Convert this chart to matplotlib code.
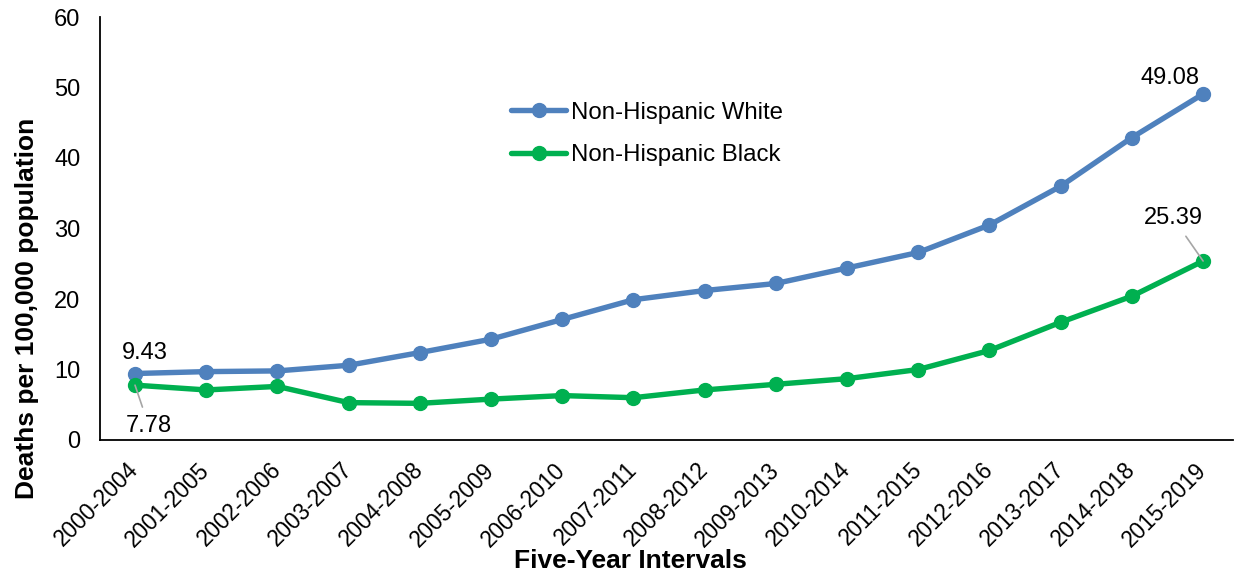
import matplotlib
matplotlib.use("Agg")
import matplotlib.pyplot as plt
from matplotlib.transforms import ScaledTranslation

categories = ["2000-2004", "2001-2005", "2002-2006", "2003-2007", "2004-2008",
              "2005-2009", "2006-2010", "2007-2011", "2008-2012", "2009-2013",
              "2010-2014", "2011-2015", "2012-2016", "2013-2017", "2014-2018",
              "2015-2019"]
white = [9.43, 9.7, 9.8, 10.6, 12.4, 14.3, 17.1, 19.9, 21.2, 22.2, 24.4, 26.6,
         30.5, 36.0, 42.9, 49.08]
black = [7.78, 7.1, 7.6, 5.3, 5.2, 5.8, 6.3, 6.0, 7.1, 7.9, 8.7, 10.0, 12.7,
         16.7, 20.4, 25.39]
yticks = [0, 10, 20, 30, 40, 50, 60]

plt.rcParams['font.family'] = ['Liberation Sans', 'DejaVu Sans']

W, H = 1235, 573
fig = plt.figure(figsize=(W / 100, H / 100), dpi=100)
ax = fig.add_axes([100 / W, 133 / H, 1133 / W, 423 / H])

x = list(range(len(categories)))
ax.plot(x, white, color="#4F81BD", lw=3.9, marker="o", ms=10, label="Non-Hispanic White",
        solid_capstyle="round", zorder=3)
ax.plot(x, black, color="#00B050", lw=3.9, marker="o", ms=10, label="Non-Hispanic Black",
        solid_capstyle="round", zorder=3)

ax.set_xlim(-0.4916, 15.42)
ax.set_ylim(0, 60)
ax.set_yticks(yticks)
ax.set_xticks(x)
ax.set_xticklabels(categories, rotation=45, ha="right", va="center",
                   rotation_mode="anchor", fontsize=16.3)
offset = ScaledTranslation(10 / 100, 0, fig.dpi_scale_trans)
for lab in ax.get_xticklabels():
    lab.set_transform(lab.get_transform() + offset)
ax.tick_params(axis="y", labelsize=17, length=0, pad=14)
ax.tick_params(axis="x", length=0, pad=19)
for s in ["top", "right"]:
    ax.spines[s].set_visible(False)
ax.spines["left"].set_linewidth(1.3)
ax.spines["bottom"].set_linewidth(1.3)

ax.set_ylabel("Deaths per 100,000 population", fontsize=19, fontweight="bold",
              va="center", ha="center")
ax.yaxis.set_label_coords((27 - 100) / 1133, (440 - 308) / 423)
ax.set_xlabel("Five-Year Intervals", fontsize=19, fontweight="bold", va="center", ha="center")
ax.xaxis.set_label_coords((630 - 100) / 1133, (440 - 561) / 423)

# data labels
ax.annotate(f"{white[0]:.2f}", (x[0], white[0]), xytext=(7.2, 15), textcoords="offset points",
            ha="center", va="center", fontsize=17)
ax.annotate(f"{white[-1]:.2f}", (x[-1], white[-1]), xytext=(-23.8, 11.5), textcoords="offset points",
            ha="center", va="center", fontsize=17)
ax.annotate(f"{black[0]:.2f}", (x[0], black[0]), xytext=(10, -29.5), textcoords="offset points",
            ha="center", va="center", fontsize=17,
            arrowprops=dict(arrowstyle="-", color="#A6A6A6", lw=1.2, shrinkA=4, shrinkB=0))
ax.annotate(f"{black[-1]:.2f}", (x[-1], black[-1]), xytext=(-21.6, 31), textcoords="offset points",
            ha="center", va="center", fontsize=17,
            arrowprops=dict(arrowstyle="-", color="#A6A6A6", lw=1.2, shrinkA=4, shrinkB=0))

ax.legend(loc="center left", bbox_to_anchor=(511 / W, 1 - 134 / H),
          bbox_transform=fig.transFigure, frameon=False, fontsize=17.3,
          handlelength=2.3, handletextpad=0.2, labelspacing=0.85,
          borderpad=0, borderaxespad=0)

fig.savefig("out.png", dpi=100)
